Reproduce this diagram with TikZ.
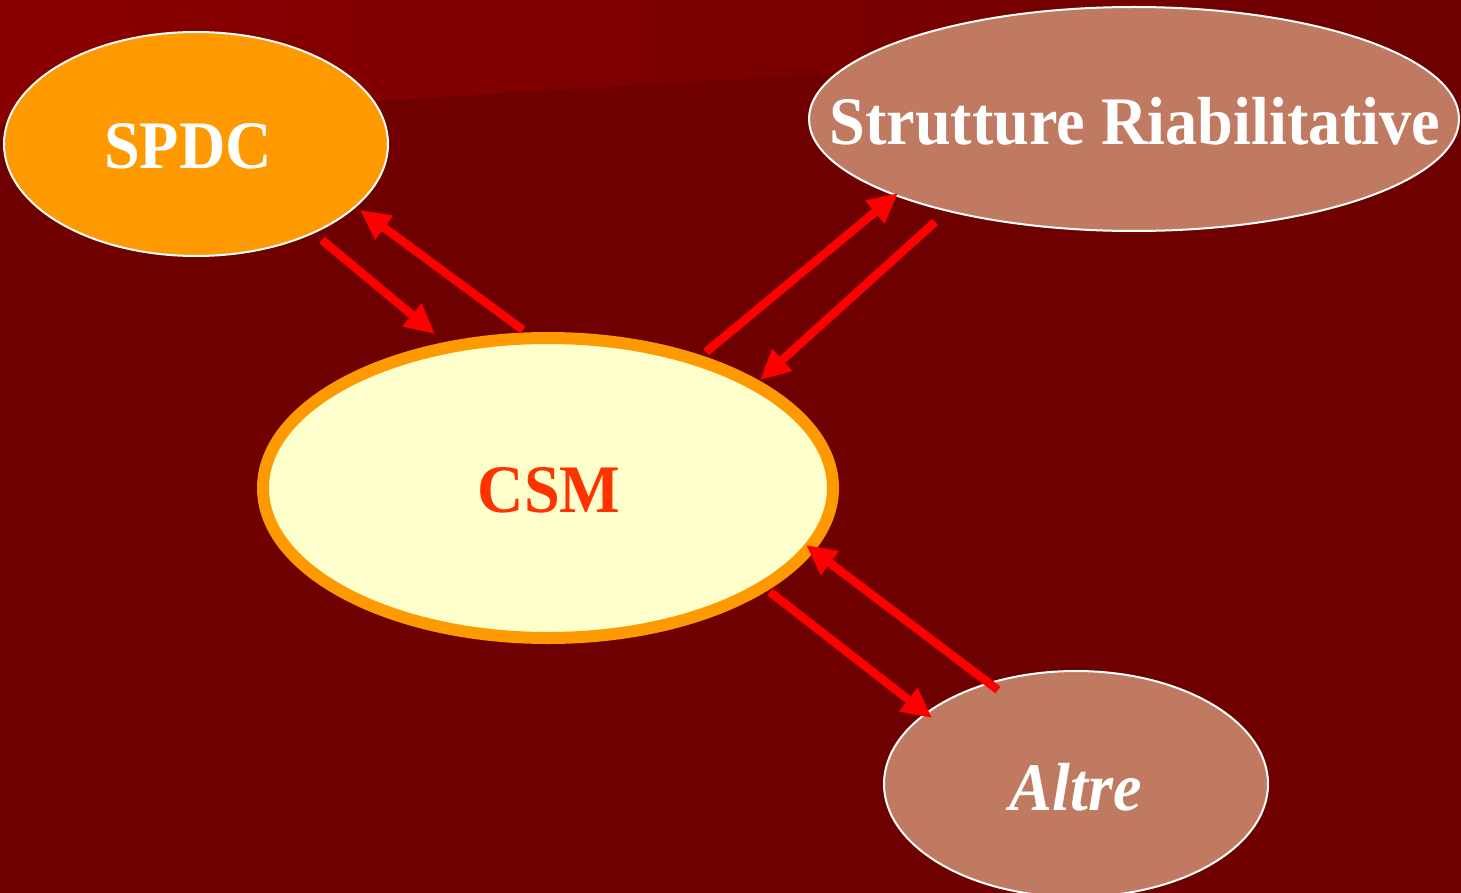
\documentclass[tikz,border=0pt]{standalone}
\usepackage{fontspec}
\setmainfont[FakeStretch=0.945]{Liberation Serif}
\usetikzlibrary{shapes.geometric,arrows.meta}
\definecolor{bgdark}{HTML}{6E0000}
\definecolor{bglight}{HTML}{8A0000}
\definecolor{orangefill}{HTML}{FF9900}
\definecolor{brownfill}{HTML}{C07A62}
\definecolor{creamfill}{HTML}{FFFFCC}
\definecolor{csmtext}{HTML}{FF3300}
\definecolor{arrowred}{HTML}{FF0000}
\tikzset{
  bubble/.style={ellipse, draw=white, line width=2pt, inner sep=0pt},
  lab/.style={font=\fontsize{68}{80}\selectfont\bfseries, text=white, inner sep=0pt},
  link/.style={draw=arrowred, line width=8.5pt, -{Triangle[length=30pt,width=28pt]}},
}
\begin{document}
\begin{tikzpicture}[x=1pt,y=-1pt]
\useasboundingbox (0,0) rectangle (1461,893);
\fill[bgdark] (0,0) rectangle (1461,893);
\shade[left color=bglight, right color=bgdark] (0,0) -- (1461,0) -- (1461,35) -- (0,124) -- cycle;

\node[bubble, fill=orangefill, minimum width=384pt, minimum height=224pt] (spdc) at (196,144) {};
\node[bubble, fill=brownfill, minimum width=650pt, minimum height=224pt] (strutt) at (1134,119) {};
\node[ellipse, draw=orangefill, line width=12pt, fill=creamfill, inner sep=0pt, minimum width=570pt, minimum height=300pt] (csm) at (548,488) {};
\node[bubble, fill=brownfill, minimum width=384pt, minimum height=226pt] (altre) at (1076,784) {};

\node[lab] (spdclab) at (188,146) {SPDC};
\node[lab] (struttlab) at (1135,121) {Strutture Riabilitative};
\node[lab, text=csmtext] (csmlab) at (549,490) {CSM};
\node[lab, font=\fontsize{68}{80}\selectfont\bfseries\itshape] (altrelab) at (1076,787) {Altre};

\coordinate (a1s) at (322,240); \coordinate (a1e) at (435,334);
\coordinate (a2s) at (523,330); \coordinate (a2e) at (360,210);
\coordinate (a3s) at (706,352); \coordinate (a3e) at (898,193);
\coordinate (a4s) at (935,222); \coordinate (a4e) at (760,380);
\coordinate (a5s) at (770,592); \coordinate (a5e) at (932,718);
\coordinate (a6s) at (998,690); \coordinate (a6e) at (806,545);

\draw[link] (a1s) -- (a1e);
\draw[link] (a2s) -- (a2e);
\draw[link] (a3s) -- (a3e);
\draw[link] (a4s) -- (a4e);
\draw[link] (a5s) -- (a5e);
\draw[link] (a6s) -- (a6e);
\end{tikzpicture}
\end{document}
